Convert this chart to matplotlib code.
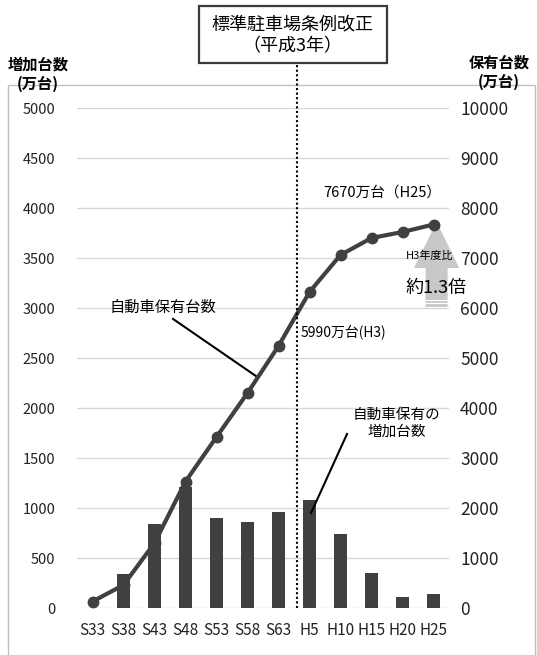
import numpy as np
import matplotlib
matplotlib.use("Agg")
import matplotlib.pyplot as plt
from matplotlib.patches import Rectangle, Polygon

plt.rcParams['font.family'] = ['Noto Sans CJK JP', 'DejaVu Sans']

# -----------------------------
# データ
# -----------------------------
years = ["S33", "S38", "S43", "S48", "S53", "S58", "S63", "H5", "H10", "H15", "H20", "H25"]
increase = [0, 340, 840, 1210, 900, 860, 960, 1080, 740, 350, 110, 140]      # 増加台数 (万台)
owned = [130, 460, 1300, 2530, 3420, 4300, 5240, 6320, 7060, 7400, 7520, 7670]  # 保有台数 (万台)
h3_owned = 5990
left_ticks = [0, 500, 1000, 1500, 2000, 2500, 3000, 3500, 4000, 4500, 5000]
right_ticks = [0, 1000, 2000, 3000, 4000, 5000, 6000, 7000, 8000, 9000, 10000]

W, H = 537, 655
def fx(px):
    return px / W
def fy(py):
    return 1 - py / H

fig = plt.figure(figsize=(W / 100, H / 100), dpi=100)
ax = fig.add_axes([fx(77), fy(608), (449 - 77) / W, 500 / H])
ax2 = ax.twinx()

x = np.arange(len(years))
dark = "#404040"

# 棒グラフ (左軸)
ax.bar(x, increase, width=0.39, color=dark, zorder=3)
ax.set_xlim(-0.5, len(years) - 0.5)
ax.set_ylim(0, 5000)
ax.set_yticks(left_ticks)
ax.set_yticklabels([str(t) for t in left_ticks], fontsize=10.5, color="#222222")
ax.set_xticks(x)
ax.set_xticklabels(years, fontsize=11, color="#222222")
ax.tick_params(axis="y", length=0, pad=15.5)
ax.tick_params(axis="x", length=0, pad=10)
ax.yaxis.grid(True, color="#d9d9d9", lw=1, zorder=0)
ax.set_axisbelow(True)
for s in ax.spines.values():
    s.set_visible(False)

# 折れ線 (右軸)
ax2.plot(x, owned, color=dark, lw=3, marker="o", ms=7.5, zorder=5)
ax2.set_ylim(0, 10000)
ax2.set_yticks(right_ticks)
ax2.set_yticklabels([str(t) for t in right_ticks], fontsize=12.5, color="#222222")
ax2.tick_params(axis="y", length=0, pad=8)
for s in ax2.spines.values():
    s.set_visible(False)

# 平成3年の点線
ax2.plot([6.6, 6.6], [0, 10900], color="black", ls=(0, (1, 1.2)), lw=1.5,
         clip_on=False, zorder=6)

# H3→H25 の矢印
ax_c = 11.1
body, head = 0.355, 0.73
y0, y1 = h3_owned, owned[-1]
yh = y1 - 870
arrow = Polygon([[ax_c - body, y0], [ax_c + body, y0], [ax_c + body, yh],
                 [ax_c + head, yh], [ax_c, y1 + 50], [ax_c - head, yh],
                 [ax_c - body, yh]], closed=True, facecolor="#c8c8c8",
                edgecolor="none", zorder=2, clip_on=False)
ax2.add_patch(arrow)
for yy in [y0 + 40, y0 + 110, y0 + 170]:
    ax2.plot([ax_c - body, ax_c + body], [yy, yy], color="white", lw=0.8, zorder=2)
ax2.text(10.89, 7040, "H3年度比", fontsize=8, ha="center", va="center", zorder=7)
ax2.text(11.08, 6400, "約1.3倍", fontsize=13, ha="center", va="center", zorder=7)

# 注記
ax2.text(9.34, 8300, f"{owned[-1]}万台（H25）", fontsize=10.5, ha="center", va="center")
ax2.text(6.72, 5520, f"{h3_owned}万台(H3)", fontsize=10, ha="left", va="center")
ax2.text(2.27, 6020, "自動車保有台数", fontsize=11, ha="center", va="center")
ax2.plot([2.6, 5.27], [5780, 4640], color="black", lw=1.5)
ax2.text(9.82, 3700, "自動車保有の\n増加台数", fontsize=10.5, ha="center", va="center",
         linespacing=1.25)
ax2.plot([8.21, 7.05], [3480, 1900], color="black", lw=1.5)

# 軸見出し
fig.text(fx(38), fy(65), "増加台数", fontsize=11, ha="center", va="center", weight="bold")
fig.text(fx(38), fy(84), "(万台)", fontsize=11, ha="center", va="center", weight="bold")
fig.text(fx(499), fy(63), "保有台数", fontsize=11, ha="center", va="center", weight="bold")
fig.text(fx(499), fy(82), "(万台)", fontsize=11, ha="center", va="center", weight="bold")

# 外枠
fig.add_artist(Rectangle((fx(8), fy(665)), fx(535) - fx(8), fy(85) - fy(665),
                         transform=fig.transFigure, fill=False,
                         edgecolor="#c0c0c0", lw=1, zorder=0))

# タイトル枠
fig.add_artist(Rectangle((fx(199), fy(63)), fx(387) - fx(199), fy(6) - fy(63),
                         transform=fig.transFigure, facecolor="white",
                         edgecolor="#3a3a3a", lw=1.6, zorder=3))
fig.text(fx(292), fy(24), "標準駐車場条例改正", fontsize=13, ha="center", va="center", zorder=4)
fig.text(fx(292), fy(46), "（平成3年）", fontsize=13, ha="center", va="center", zorder=4)

fig.savefig("out.png", dpi=100)
